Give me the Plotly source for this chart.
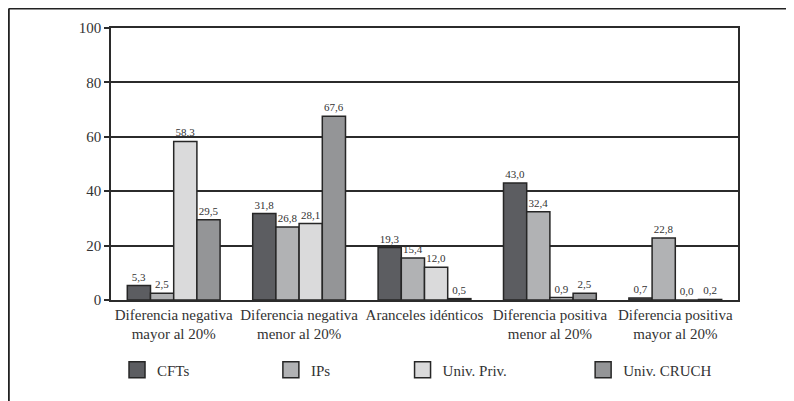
import plotly.graph_objects as go

categories = [
    "Diferencia negativa<br>mayor al 20%",
    "Diferencia negativa<br>menor al 20%",
    "Aranceles idénticos",
    "Diferencia positiva<br>menor al 20%",
    "Diferencia positiva<br>mayor al 20%",
]
series_names = ["CFTs", "IPs", "Univ. Priv.", "Univ. CRUCH"]
cfts = [5.3, 31.8, 19.3, 43.0, 0.7]
ips = [2.5, 26.8, 15.4, 32.4, 22.8]
univ_priv = [58.3, 28.1, 12.0, 0.9, 0.0]
univ_cruch = [29.5, 67.6, 0.5, 2.5, 0.2]
y_ticks = [0, 20, 40, 60, 80, 100]

colors = ["#5c5d61", "#b1b2b4", "#dadadb", "#949597"]
values = [cfts, ips, univ_priv, univ_cruch]
FONT = "Liberation Serif"
TXT = "#333333"

fig = go.Figure()
for name, vals, col in zip(series_names, values, colors):
    fig.add_trace(go.Bar(
        x=categories, y=vals, name=name, showlegend=False,
        marker=dict(color=col, line=dict(color="#262626", width=1.5)),
        texttemplate="%{y:.1f}", textposition="outside",
        textfont=dict(family=FONT, size=11, color=TXT),
        cliponaxis=False,
    ))

# legend entries (one legend per entry to place them like the reference)
legend_x = [0.0096, 0.255, 0.465, 0.753]
legend_ids = ["legend", "legend2", "legend3", "legend4"]
for name, col, lid in zip(series_names, colors, legend_ids):
    fig.add_trace(go.Scatter(
        x=[None], y=[None], mode="markers", name=name, legend=lid,
        marker=dict(symbol="square", size=18, color=col,
                    line=dict(color="#262626", width=1.5)),
        showlegend=True,
    ))

leg_common = dict(orientation="h", yanchor="middle", y=-0.257,
                  xanchor="left", bgcolor="rgba(0,0,0,0)",
                  font=dict(family=FONT, size=15, color=TXT))
layout_legends = {}
for lid, lx in zip(legend_ids, legend_x):
    layout_legends[lid] = dict(leg_common, x=lx)

fig.update_layout(
    width=794, height=401,
    margin=dict(l=103, r=64, t=20, b=109),
    paper_bgcolor="white", plot_bgcolor="white",
    barmode="group", bargap=0.26, bargroupgap=0,
    separators=",.",
    font=dict(family=FONT, color=TXT),
    **layout_legends,
)
fig.update_yaxes(
    range=[0, 100], tickvals=y_ticks,
    showgrid=True, gridcolor="#2b2b2b", gridwidth=1.5,
    showline=True, linecolor="#2b2b2b", linewidth=1.5, mirror=True,
    ticks="outside", ticklen=5, tickcolor="#2b2b2b", tickwidth=1.5,
    tickfont=dict(family=FONT, size=15, color=TXT),
    zeroline=False,
)
fig.update_xaxes(
    showline=True, linecolor="#2b2b2b", linewidth=1.5, mirror=True,
    ticks="", ticklen=0, tickfont=dict(family=FONT, size=15, color=TXT),
)

# page frame lines
fig.add_shape(type="line", xref="paper", yref="paper",
              x0=-0.163, x1=1.12, y0=1.072, y1=1.072,
              line=dict(color="#222222", width=2))
fig.add_shape(type="line", xref="paper", yref="paper",
              x0=-0.163, x1=-0.163, y0=1.072, y1=-0.42,
              line=dict(color="#222222", width=2))

fig.write_html("out.html")
